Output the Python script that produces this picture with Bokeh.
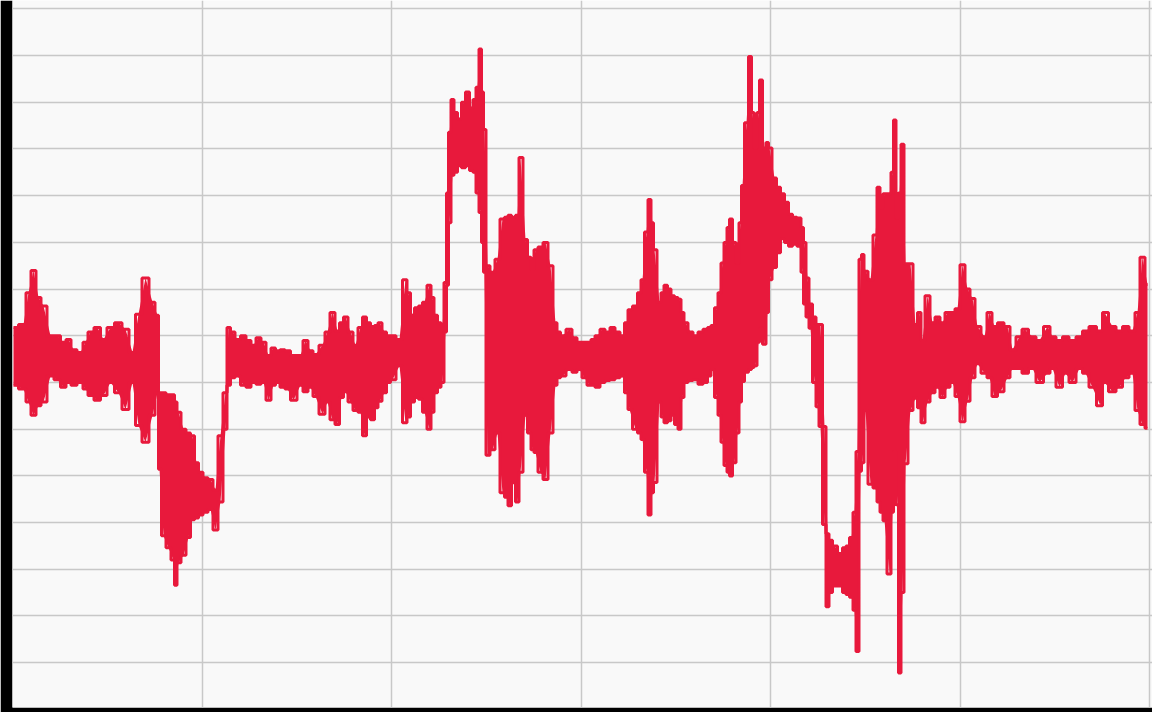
from bokeh.plotting import figure
from bokeh.models import Range1d, FixedTicker
from bokeh.embed import file_html
from bokeh.resources import INLINE

# sample index along the trace
sample = [1, 11, 16, 21, 26, 31, 38, 45, 51, 56, 61, 68, 73, 78, 85, 91, 98, 106, 113, 120,
          126, 133, 140, 145, 147, 151, 156, 161, 163, 166, 171, 176, 180, 184, 188, 193, 198, 203, 208, 213,
          216, 220, 225, 231, 236, 241, 246, 251, 256, 261, 265, 270, 275, 281, 288, 293, 298, 303, 310, 315,
          320, 325, 329, 333, 338, 343, 348, 352, 356, 360, 364, 367, 372, 376, 380, 387, 393, 396, 400, 404,
          408, 412, 417, 420, 423, 427, 430, 433, 435, 437, 440, 443, 447, 451, 455, 459, 462, 465, 468, 470,
          472, 475, 480, 485, 490, 494, 497, 501, 505, 508, 513, 517, 520, 523, 528, 533, 538, 543, 546, 550,
          557, 562, 567, 572, 577, 580, 585, 590, 595, 600, 605, 610, 614, 617, 623, 627, 630, 634, 637, 640,
          642, 647, 650, 653, 657, 660, 664, 667, 670, 673, 678, 683, 688, 693, 697, 700, 704, 707, 710, 713,
          716, 718, 722, 725, 728, 730, 734, 738, 740, 743, 746, 748, 752, 755, 757, 762, 766, 770, 774, 778,
          782, 787, 790, 792, 795, 798, 802, 805, 808, 812, 815, 818, 822, 828, 832, 835, 839, 842, 845, 848,
          850, 853, 858, 863, 866, 869, 872, 877, 880, 882, 885, 887, 890, 893, 898, 903, 907, 910, 915, 920,
          925, 930, 935, 940, 945, 950, 955, 960, 965, 972, 977, 982, 988, 995, 1000, 1007, 1012, 1020, 1027, 1035,
          1040, 1047, 1053, 1060, 1067, 1073, 1080, 1088, 1092, 1100, 1107, 1113, 1120, 1125, 1130, 1135]

# upper envelope of the signal
upper = [59, 62, 96, 120, 91, 82, 50, 50, 43, 46, 35, 32, 43, 54, 59, 46, 59, 64, 57, 32,
         73, 112, 86, 72, -11, -11, -13, -13, -21, -32, -50, -54, -57, -86, -96, -102, -104, -115, -57, -11,
         59, 54, 46, 50, 45, 40, 48, 43, 29, 37, 34, 35, 34, 29, 29, 45, 34, 30, 40, 54,
         75, 55, 64, 70, 54, 40, 59, 70, 64, 60, 61, 64, 54, 50, 50, 46, 110, 96, 72, 80,
         82, 86, 104, 91, 72, 64, 61, 107, 203, 268, 303, 289, 282, 300, 311, 294, 303, 316, 357, 311,
         271, 125, 118, 132, 175, 177, 179, 177, 179, 241, 153, 134, 121, 142, 145, 150, 125, 64, 54, 50,
         57, 48, 43, 43, 43, 46, 50, 57, 54, 59, 54, 50, 64, 78, 82, 96, 110, 161, 196, 171,
         142, 86, 96, 104, 100, 93, 91, 89, 75, 64, 54, 50, 54, 57, 59, 61, 80, 96, 128, 150,
         166, 175, 150, 128, 171, 211, 278, 349, 289, 251, 289, 324, 251, 257, 251, 219, 209, 202, 193, 180,
         177, 176, 166, 150, 112, 84, 70, 62, 62, -47, -162, -169, -175, -183, -177, -175, -166, -139, -74, 132,
         137, 119, 110, 158, 209, 187, 202, 202, 225, 281, 176, 203, 255, 127, 127, 62, 75, 45, 93, 64,
         70, 64, 75, 75, 79, 126, 100, 90, 60, 49, 75, 60, 64, 60, 35, 49, 57, 49, 45, 60,
         49, 45, 49, 45, 49, 55, 60, 55, 75, 60, 55, 60, 55, 75, 134, 105]

# lower envelope of the signal
lower = [-3, -7, -21, -35, -25, -21, 7, 3, -5, 0, -3, 0, -7, -14, -19, -14, 0, -11, -29, 0,
         -46, -64, -35, -11, -93, -164, -177, -190, -217, -193, -185, -166, -147, -145, -142, -139, -136, -158, -128, -50,
         -3, 5, 7, -3, -5, 0, -2, 0, -19, -3, 0, -5, -7, -19, -3, -10, -5, -15, -34, -21,
         -40, -45, -16, -10, -21, -30, -32, -57, -37, -40, -27, -20, -11, 0, 3, 18, -43, -37, -21, -16,
         -18, -32, -50, -32, -11, -5, 0, 54, 104, 171, 222, 225, 232, 230, 232, 227, 225, 203, 182, 150,
         118, -78, -72, -54, -118, -123, -132, -107, -128, -96, -35, -54, -72, -75, -96, -104, -54, -3, 5, 7,
         14, 11, 14, 5, -3, -3, -5, 0, 2, 3, 5, 7, -11, -29, -50, -54, -61, -96, -142, -118,
         -107, -21, -37, -43, -41, -35, -45, -50, -16, 0, 2, 3, -2, 0, 7, 14, -16, -35, -64, -89,
         -96, -100, -86, -54, -21, 1, 11, 14, 16, 18, 43, 58, 41, 75, 110, 123, 139, 154, 150, 146,
         148, 146, 118, 84, 70, 58, 0, -26, -47, -152, -240, -225, -218, -218, -225, -227, -230, -244, -288, -95,
         -86, -30, -109, -113, -128, -139, -148, -205, -139, -74, -131, -311, -225, -87, -30, -17, -27, -43, -21, -11,
         -5, -16, -5, 0, -15, -42, -20, 5, 20, 10, 5, -15, -10, 5, 15, 15, 10, 15, 0, 10,
         15, -5, 10, 0, 15, 10, -5, -25, 0, -10, -5, 5, 10, -30, -45, -49]

x_ticks = [189.5 * k for k in range(1, 7)]
y_ticks = list(range(-300, 401, 50))

RED = "#e8193c"

p = figure(width=1152, height=712, output_backend="svg", toolbar_location=None,
           title=None,
           x_range=Range1d(0, 1140), y_range=Range1d(-348, 409),
           x_axis_location=None, y_axis_location=None,
           min_border_left=12, min_border_right=0, min_border_top=0, min_border_bottom=5,
           background_fill_color="#f9f9f9", border_fill_color="black")
p.outline_line_color = None

p.xgrid.ticker = FixedTicker(ticks=x_ticks)
p.ygrid.ticker = FixedTicker(ticks=y_ticks)
p.grid.grid_line_color = "#c8c8c8"
p.grid.grid_line_width = 1.5

p.varea(x=sample, y1=lower, y2=upper, fill_color=RED, fill_alpha=1.0)
p.step(sample, upper, mode="center", line_color=RED, line_width=3)
p.step(sample, lower, mode="center", line_color=RED, line_width=3)

open("out.html", "w").write(file_html(p, INLINE))
